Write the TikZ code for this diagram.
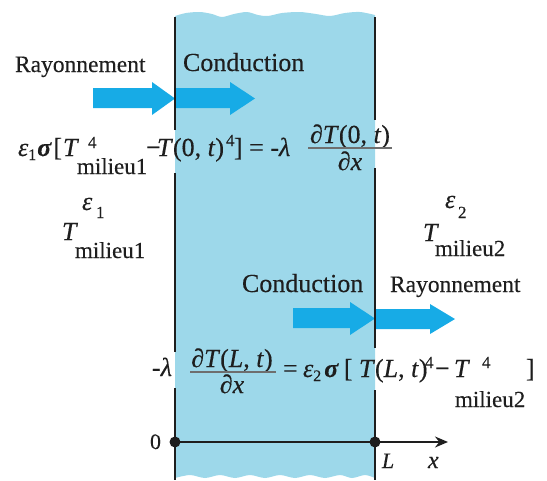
\documentclass[tikz,border=0pt]{standalone}
\usepackage{fontspec}
\setmainfont{Liberation Serif}[FakeBold=0.3]
\usetikzlibrary{arrows.meta}
\definecolor{slab}{HTML}{9DD8EA}
\definecolor{flow}{HTML}{17ABE6}
\definecolor{ink}{HTML}{1E1E1E}
\definecolor{barc}{HTML}{6E6E6E}
\newcommand\fs[1]{\fontsize{#1}{#1}\selectfont}
\begin{document}
\begin{tikzpicture}[x=1pt,y=-1pt,
  t/.style={inner sep=0pt,outer sep=0pt,anchor=base west,text=ink,font=\fs{26}},
  tc/.style={inner sep=0pt,outer sep=0pt,anchor=base,text=ink,font=\fs{26}},
  sup/.style={t,font=\fs{17}},
  sub/.style={t,font=\fs{23}},
  wall/.style={line width=1.4pt,draw=ink},
  fracbar/.style={line width=1.3pt,draw=barc},
  flowarrow/.style={fill=flow}]
\useasboundingbox (0,0) rectangle (547,480);
% slab
\fill[slab] plot[smooth] coordinates {(175,16) (186,13) (200,12) (212,14) (222,17) (234,14) (247,12) (258,15) (268,16) (282,13) (300,12) (316,14) (330,16) (345,13) (360,12) (375,15)}
  -- plot[smooth] coordinates {(375,478) (365,475) (352,478) (340,475) (325,478) (310,475) (295,478) (280,475) (265,478) (250,475) (235,478) (220,475) (205,478) (190,475) (175,478)} -- cycle;
% flow arrows
\fill[flowarrow] (93,88) -- (152,88) -- (152,82) -- (175,98.5) -- (152,115) -- (152,108) -- (93,108) -- cycle;
\fill[flowarrow] (175,88) -- (230,88) -- (230,82) -- (255,98.5) -- (230,115) -- (230,108) -- (175,108) -- cycle;
\fill[flowarrow] (293,308) -- (350,308) -- (350,302) -- (375,318.5) -- (350,335) -- (350,328) -- (293,328) -- cycle;
\fill[flowarrow] (375,309) -- (430,309) -- (430,304) -- (455,319) -- (430,334) -- (430,329) -- (375,329) -- cycle;
% walls
\draw[wall] (175,17) -- (175,130);
\draw[wall] (175,173) -- (175,352);
\draw[wall] (175,388) -- (175,480);
\draw[wall] (375,17) -- (375,120);
\draw[wall] (375,168) -- (375,348);
\draw[wall] (375,390) -- (375,480);
% labels
\node[t,font=\fs{23.5}] (r1) at (15,72) {Rayonnement};
\node[t,font=\fs{26}] (c1) at (183,71) {Conduction};
\node[t,font=\fs{26}] (c2) at (242,292) {Conduction};
\node[t,font=\fs{23.5}] (r2) at (390,292) {Rayonnement};
% equation 1
\node[t] (e1a) at (18,156) {\textit{ε}\raisebox{-4pt}{\fs{16}1}\kern1pt\textbf{\textit{σ}}\kern1.5pt[\kern1pt\textit{T}};
\node[sup] (e1b) at (88,148) {4};
\node[sub] (e1c) at (77,174) {milieu1};
\node[t] (e1d) at (146,156) {−};
\node[t] (e1e) at (157,156) {\textit{T}(0, \textit{t})};
\node[sup] (e1f) at (226,146) {4};
\node[t] (e1g) at (234,156) {] = -\textit{λ}};
\node[tc] (n1) at (350,143) {∂\textit{T}(0, \textit{t})};
\coordinate (b1l) at (308,148);
\coordinate (b1r) at (392,148);
\draw[fracbar] (b1l) -- (b1r);
\node[tc] (d1) at (350,170) {∂\textit{x}};
% equation 2
\node[t] (e2a) at (152,376) {-\textit{λ}};
\node[tc] (n2) at (232,367) {∂\textit{T}(\textit{L}, \textit{t})};
\coordinate (b2l) at (190,372);
\coordinate (b2r) at (276,372);
\draw[fracbar] (b2l) -- (b2r);
\node[tc] (d2) at (232,393) {∂\textit{x}};
\node[t] (e2b) at (283,377) {=};
\node[t] (e2c) at (303,377) {\textit{ε}\raisebox{-4pt}{\fs{16}2}\kern3pt\textbf{\textit{σ}}\kern5pt[};
\node[t] (e2d) at (359,377) {\textit{T}(\textit{L}, \textit{t})};
\node[sup] (e2e) at (425,368) {4};
\node[t] (e2f) at (435,377) {−};
\node[t] (e2g) at (454,377) {\textit{T}};
\node[sup] (e2h) at (482,368) {4};
\node[t] (e2i) at (526,377) {]};
\node[sub] (e2j) at (455,407) {milieu2};
% media
\node[t] (m1e) at (82,210) {\textit{ε}};
\node[sup] (m1s) at (96,218) {1};
\node[t] (m1T) at (62,240) {\textit{T}};
\node[sub] (m1m) at (75,258) {milieu1};
\node[t] (m2e) at (445,208) {\textit{ε}};
\node[sup] (m2s) at (458,218) {2};
\node[t] (m2T) at (423,241) {\textit{T}};
\node[sub] (m2m) at (435,256) {milieu2};
% axis
\coordinate (O) at (175,442);
\coordinate (Lp) at (375,442);
\coordinate (xe) at (448,442);
\draw[line width=1.4pt,draw=ink] (O) -- (Lp);
\draw[line width=1.4pt,draw=ink,-{Stealth[length=13pt,width=11pt]}] (Lp) -- (xe);
\fill[ink] (O) circle (5.5pt);
\fill[ink] (Lp) circle (5.5pt);
\node[t,font=\fs{22}] (zero) at (150,449) {0};
\node[t,font=\fs{22}] (Llab) at (382,468) {\textit{L}};
\node[t,font=\fs{24}] (xlab) at (428,468) {\textit{x}};
\end{tikzpicture}
\end{document}
